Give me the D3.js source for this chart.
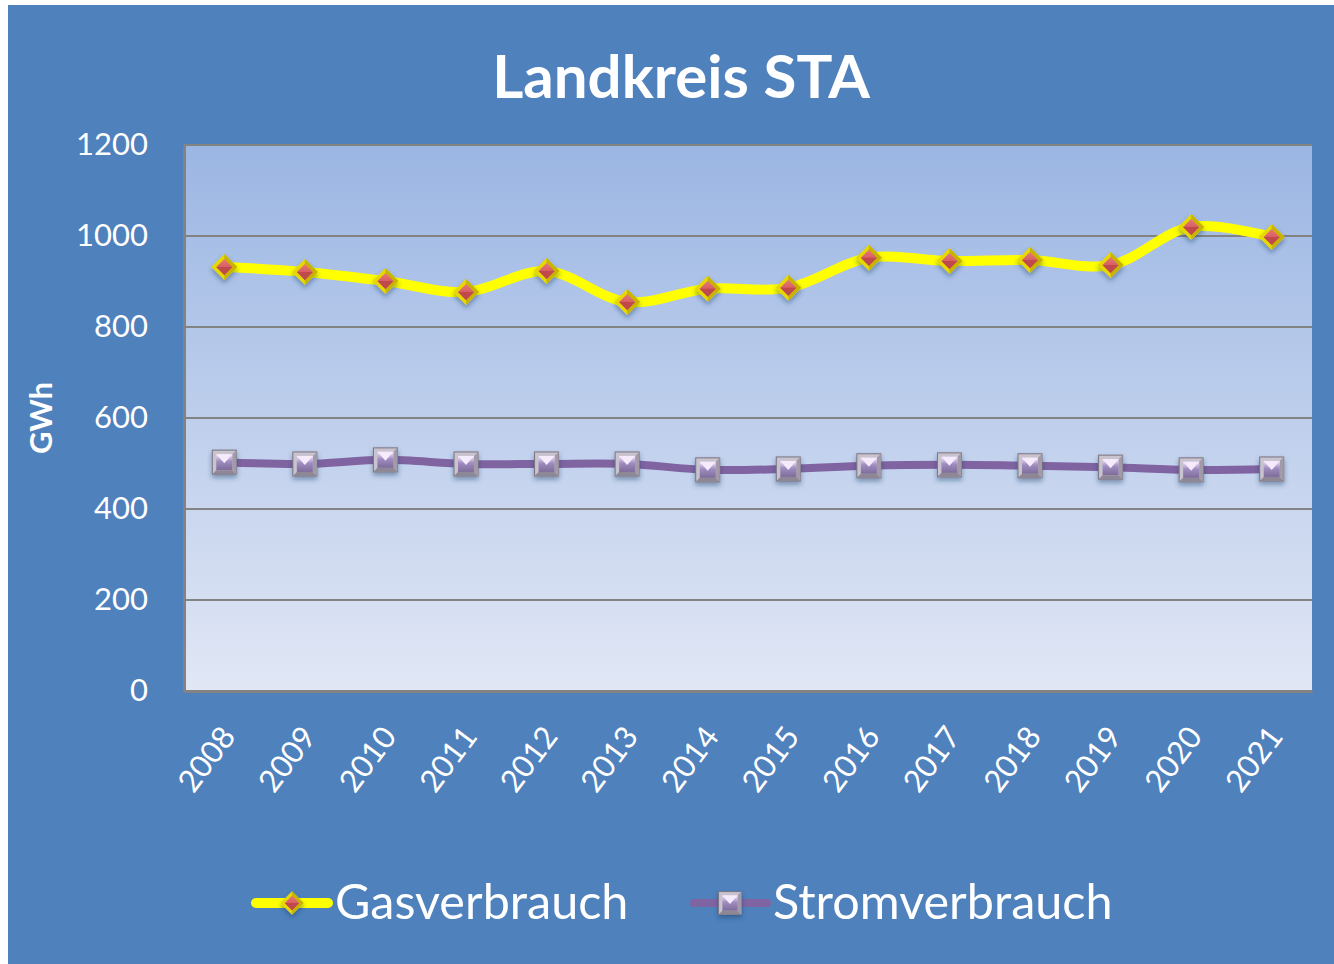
<!DOCTYPE html>
<html>
<head>
<meta charset="utf-8">
<script src="https://cdn.jsdelivr.net/npm/d3@7"></script>
<style>
  body { margin: 0; background: #fff; }
  text { font-family: Lato, "Noto Sans", sans-serif; fill: #fff; }
</style>
</head>
<body>
<div id="chart"></div>
<script>
// chart data
var years = ["2008", "2009", "2010", "2011", "2012", "2013", "2014", "2015", "2016", "2017", "2018", "2019", "2020", "2021"];
var gasValues = [932, 921, 901, 877, 923, 855, 884, 886, 952, 945, 947, 936, 1020, 998];
var stromValues = [503, 499, 508, 499, 499, 499, 486, 488, 495, 497, 495, 492, 486, 488];
var yTicks = [0, 200, 400, 600, 800, 1000, 1200];
var seriesNames = ["Gasverbrauch", "Stromverbrauch"];

var svgWidth = 1334;
var svgHeight = 964;

var margins = { top: 145, right: 22, bottom: 273, left: 184 };
var width = svgWidth - margins.left - margins.right;
var height = svgHeight - margins.top - margins.bottom;

var svg = d3.select("#chart")
    .append("svg")
    .attr("width", svgWidth)
    .attr("height", svgHeight);

var defs = svg.append("defs");

// plot area gradient
var grad = defs.append("linearGradient")
    .attr("id", "plotGrad")
    .attr("x1", 0).attr("y1", 0).attr("x2", 0).attr("y2", 1);
grad.append("stop").attr("offset", "0%").attr("stop-color", "#9bb6e3");
grad.append("stop").attr("offset", "100%").attr("stop-color", "#e1e7f5");

// marker gradients
var redGrad = defs.append("linearGradient")
    .attr("id", "redGrad").attr("x1", 0).attr("y1", 0).attr("x2", 0).attr("y2", 1);
redGrad.append("stop").attr("offset", "0%").attr("stop-color", "#e8767a");
redGrad.append("stop").attr("offset", "100%").attr("stop-color", "#c84a4e");

var purpGrad = defs.append("linearGradient")
    .attr("id", "purpGrad").attr("x1", 0).attr("y1", 0).attr("x2", 0).attr("y2", 1);
purpGrad.append("stop").attr("offset", "0%").attr("stop-color", "#f3e6fb");
purpGrad.append("stop").attr("offset", "45%").attr("stop-color", "#a08cc0");
purpGrad.append("stop").attr("offset", "100%").attr("stop-color", "#7d6c9a");

var shadow = defs.append("filter").attr("id", "shadow")
    .attr("x", "-50%").attr("y", "-50%").attr("width", "200%").attr("height", "200%");
shadow.append("feDropShadow")
    .attr("dx", 0).attr("dy", 3).attr("stdDeviation", 2.5)
    .attr("flood-color", "#1f3a63").attr("flood-opacity", 0.45);

// outer background
svg.append("rect")
    .attr("x", 8).attr("y", 5)
    .attr("width", svgWidth - 8).attr("height", svgHeight - 5)
    .attr("fill", "#4f81bd");

// title
svg.append("text")
    .attr("x", 681).attr("y", 98)
    .attr("text-anchor", "middle")
    .style("font-size", "60px")
    .style("font-weight", "bold")
    .text("Landkreis STA");

var chartGroup = svg.append("g")
    .attr("transform", `translate(${margins.left}, ${margins.top})`);

chartGroup.append("rect")
    .attr("width", width)
    .attr("height", height)
    .attr("fill", "url(#plotGrad)");

// scales
var xScale = d3.scalePoint()
    .domain(years)
    .range([0, width])
    .padding(0.5);

var yScale = d3.scaleLinear()
    .domain([0, 1200])
    .range([height, 0]);

// gridlines
chartGroup.selectAll(".grid")
    .data(yTicks.filter(d => d > 0))
    .enter()
    .append("line")
    .attr("x1", 0)
    .attr("x2", width)
    .attr("y1", d => yScale(d))
    .attr("y2", d => yScale(d))
    .attr("stroke", "#838383")
    .attr("stroke-width", 2);

// axes
var leftAxis = d3.axisLeft(yScale).tickValues(yTicks).tickFormat(d3.format("d")).tickSize(0).tickPadding(36);
var bottomAxis = d3.axisBottom(xScale).tickSize(0).tickPadding(0);

var yAxisG = chartGroup.append("g").call(leftAxis);
yAxisG.select(".domain").attr("stroke", "#838383").attr("stroke-width", 3);
yAxisG.selectAll("text")
    .style("font-size", "31px")
    .attr("fill", "#fff");

var xAxisG = chartGroup.append("g")
    .attr("transform", `translate(0, ${height})`)
    .call(bottomAxis);
xAxisG.select(".domain").attr("stroke", "#838383").attr("stroke-width", 3);
xAxisG.selectAll("text")
    .style("font-size", "31px")
    .attr("fill", "#fff")
    .attr("text-anchor", "end")
    .attr("dy", 0)
    .attr("transform", "translate(12, 46) rotate(-53)");

// y axis label
svg.append("text")
    .attr("transform", "translate(52, 418) rotate(-90)")
    .attr("text-anchor", "middle")
    .style("font-size", "31px")
    .style("font-weight", "bold")
    .text("GWh");

// lines
var line = d3.line()
    .x((d, i) => xScale(years[i]))
    .y(d => yScale(d))
    .curve(d3.curveCatmullRom.alpha(0.5));

chartGroup.append("path")
    .datum(stromValues)
    .attr("d", line)
    .attr("fill", "none")
    .attr("stroke", "#8064a2")
    .attr("stroke-width", 8)
    .attr("stroke-linecap", "round");

chartGroup.append("path")
    .datum(gasValues)
    .attr("d", line)
    .attr("fill", "none")
    .attr("stroke", "#ffff00")
    .attr("stroke-width", 10)
    .attr("stroke-linecap", "round");

// marker drawing helpers
function diamond(g) {
    g.attr("filter", "url(#shadow)");
    g.append("path").attr("d", "M0,-13 L13,0 L0,13 L-13,0 Z").attr("fill", "#e6d800");
    g.append("path").attr("d", "M0,-13 L13,0 L0,13 Z").attr("fill", "#c8b400");
    g.append("path").attr("d", "M0,-8 L8,0 L0,8 L-8,0 Z").attr("fill", "url(#redGrad)");
    g.append("path").attr("d", "M-8,0 L8,0 L0,8 Z").attr("fill", "#c0484c");
}

function square(g) {
    g.attr("filter", "url(#shadow)");
    g.append("rect").attr("x", -12).attr("y", -12).attr("width", 24).attr("height", 24)
        .attr("fill", "#c9c3cf").attr("stroke", "#7a7480").attr("stroke-width", 1);
    g.append("path").attr("d", "M-12,12 L-8,8 L8,8 L12,12 Z").attr("fill", "#8e8896");
    g.append("path").attr("d", "M12,-12 L8,-8 L8,8 L12,12 Z").attr("fill", "#a29aa8");
    g.append("rect").attr("x", -8).attr("y", -8).attr("width", 16).attr("height", 16)
        .attr("fill", "url(#purpGrad)");
    g.append("path").attr("d", "M-8,-8 L0,1 L8,-8 Z").attr("fill", "#f5ebfc");
}

chartGroup.selectAll(".stromPt")
    .data(stromValues)
    .enter()
    .append("g")
    .attr("transform", (d, i) => `translate(${xScale(years[i])}, ${yScale(d)})`)
    .each(function() { square(d3.select(this)); });

chartGroup.selectAll(".gasPt")
    .data(gasValues)
    .enter()
    .append("g")
    .attr("transform", (d, i) => `translate(${xScale(years[i])}, ${yScale(d)})`)
    .each(function() { diamond(d3.select(this)); });

// legend
var legend = svg.append("g");

var gasLeg = legend.append("g");
gasLeg.append("line")
    .attr("x1", 256).attr("x2", 328).attr("y1", 903).attr("y2", 903)
    .attr("stroke", "#ffff00").attr("stroke-width", 10).attr("stroke-linecap", "round");
gasLeg.append("g").attr("transform", "translate(292, 903) scale(0.9)")
    .each(function() { diamond(d3.select(this)); });
gasLeg.append("text")
    .attr("x", 335).attr("y", 919)
    .style("font-size", "48.5px")
    .text(seriesNames[0]);

var stromLeg = legend.append("g");
stromLeg.append("line")
    .attr("x1", 694).attr("x2", 767).attr("y1", 903).attr("y2", 903)
    .attr("stroke", "#8064a2").attr("stroke-width", 8).attr("stroke-linecap", "round");
stromLeg.append("g").attr("transform", "translate(730, 903) scale(0.95)")
    .each(function() { square(d3.select(this)); });
stromLeg.append("text")
    .attr("x", 773).attr("y", 919)
    .style("font-size", "48.5px")
    .text(seriesNames[1]);
</script>
</body>
</html>
